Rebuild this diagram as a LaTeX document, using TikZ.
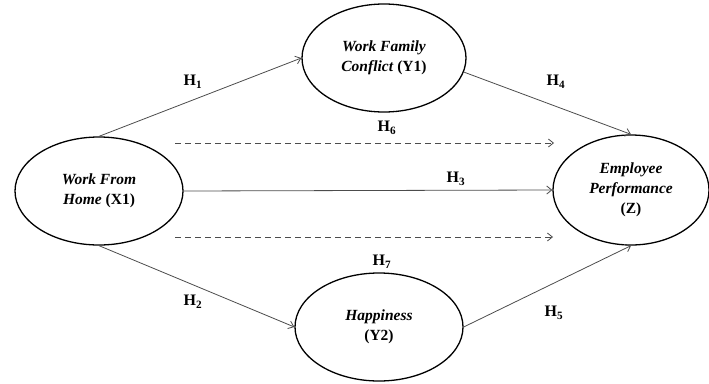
\documentclass[tikz,border=0pt]{standalone}
\usepackage{fontspec}
\setmainfont{Liberation Serif}
\usetikzlibrary{shapes.geometric,positioning,calc,arrows.meta}

\tikzset{
  latent/.style={draw=black, line width=1.3pt, ellipse, inner sep=0pt, align=center, font=\fontsize{15.5}{20}\selectfont\bfseries},
  link/.style={->, draw=black!70, line width=0.8pt},
  dashlink/.style={link, dashed, dash pattern=on 6pt off 4pt},
  hyp/.style={font=\fontsize{16}{18}\selectfont\bfseries}
}

\begin{document}
\begin{tikzpicture}[x=1pt,y=-1pt,>={Straight Barb[length=5pt,width=8pt]}]
  \useasboundingbox (0,0) rectangle (709,383);

  % constructs
  \node[latent, minimum width=168pt, minimum height=108pt] (X1) at (99,191) {\textit{Work From}\\\textit{Home} (X1)};
  \node[latent, minimum width=164pt, minimum height=108pt] (Y1) at (384,58) {\textit{Work Family}\\\textit{Conflict} (Y1)};
  \node[latent, minimum width=168pt, minimum height=108pt] (Y2) at (379,327) {\textit{Happiness}\\(Y2)};
  \node[latent, minimum width=156pt, minimum height=110pt] (Z) at (631,190) {\textit{Employee}\\\textit{Performance}\\(Z)};

  % free ends of the dashed paths
  \coordinate (d6s) at (175,143);
  \coordinate (d6e) at (554,143);
  \coordinate (d7s) at (175,237);
  \coordinate (d7e) at (553,237);

  % hypotheses
  \draw[link] (X1.north) -- (Y1.west);
  \draw[link] (Y1.-10) -- (Z.north);
  \draw[link] (X1.east) -- (Z.west);
  \draw[link] (X1.south) -- (Y2.west);
  \draw[link] (Y2.east) -- (Z.south);
  \draw[dashlink] (d6s) -- (d6e);
  \draw[dashlink] (d7s) -- (d7e);

  \node[hyp] (h1) at (193,82) {H\textsubscript{1}};
  \node[hyp] (h2) at (193,302) {H\textsubscript{2}};
  \node[hyp] (h3) at (456,179) {H\textsubscript{3}};
  \node[hyp] (h4) at (556,82) {H\textsubscript{4}};
  \node[hyp] (h5) at (554,313) {H\textsubscript{5}};
  \node[hyp] (h6) at (387,128) {H\textsubscript{6}};
  \node[hyp] (h7) at (382,262) {H\textsubscript{7}};
\end{tikzpicture}
\end{document}
